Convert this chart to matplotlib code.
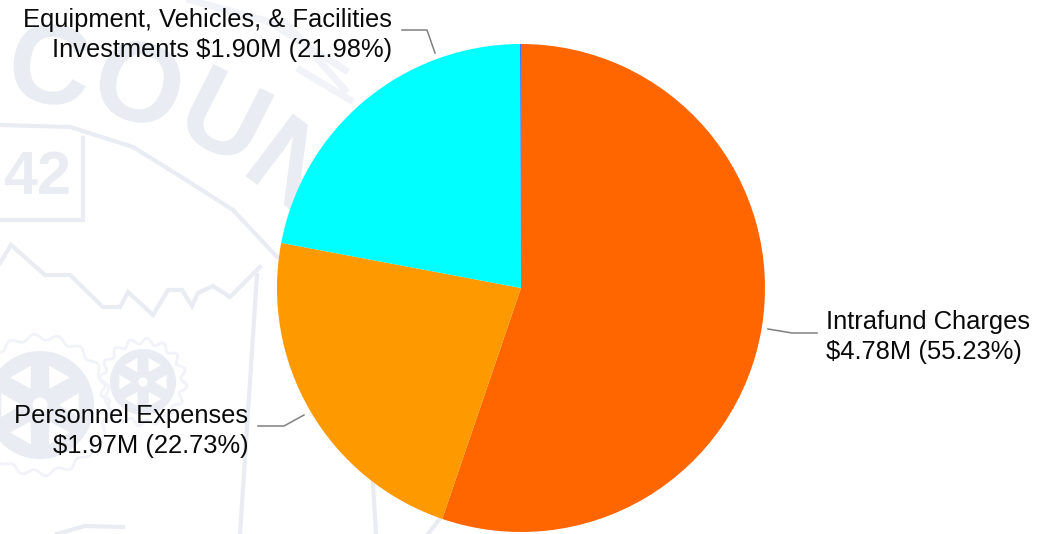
import numpy as np
from matplotlib import pyplot as plt
from matplotlib.textpath import TextPath
from matplotlib.patches import PathPatch, Polygon
from matplotlib.transforms import Affine2D
from matplotlib.font_manager import FontProperties

# budget shares, percent
categories = ['Intrafund Charges', 'Personnel Expenses',
              'Equipment, Vehicles, & Facilities Investments', 'Other']
shares = [55.23, 22.73, 21.98, 0.06]
colors = ['#ff6600', '#ff9900', '#00ffff', '#3366ff']

label_lines = [['Intrafund Charges', '$4.78M (55.23%)'],
               ['Personnel Expenses', '$1.97M (22.73%)'],
               ['Equipment, Vehicles, & Facilities', 'Investments $1.90M (21.98%)']]

W, H = 1053, 534
fig = plt.figure(figsize=(W / 100, H / 100), dpi=100)
ax = fig.add_axes([0, 0, 1, 1])

seal = '#e9ecf3'
seal_light = '#f1f3f8'

# county seal in the background
font = FontProperties(family='Liberation Sans', weight='bold')
for ch, cx, cy, rot in [('C', 51, 64, 7), ('O', 140, 82, 17), ('U', 226, 115, 27), ('N', 296, 165, 37)]:
    tp = TextPath((0, 0), ch, size=114, prop=font)
    bb = tp.get_extents()
    tr = (Affine2D().translate(-(bb.x0 + bb.x1) / 2, -(bb.y0 + bb.y1) / 2).scale(1, -1)
          .rotate_deg(rot).translate(cx, cy) + ax.transData)
    ax.add_patch(PathPatch(tp, transform=tr, fc=seal, ec='none', zorder=1))

seal_lines = [
    ([0, 70, 133, 183, 233, 277], [125, 127, 147, 178, 210, 257]),
    ([83, 83, 0], [138, 220, 220]),
    ([0, 11, 45, 70, 103, 120, 128, 153, 168, 182, 192, 198, 213, 230, 260],
     [263, 245, 275, 275, 307, 307, 292, 315, 290, 290, 306, 293, 286, 297, 267]),
    ([257, 240], [275, 534]),
    ([373, 376], [483, 534]),
    ([428, 442], [534, 516]),
    ([57, 85, 123], [534, 526, 527]),
]
for xs, ys in seal_lines:
    ax.plot(xs, ys, color=seal, lw=3, zorder=1, solid_joinstyle='miter')

# fainter bands along the top edge
for xs, ys in [([285, 345], [22, 90]), ([300, 350], [70, 100]), ([190, 270, 345], [0, 22, 70])]:
    ax.plot(xs, ys, color=seal_light, lw=5, zorder=1)

ax.text(37, 179, '42', fontsize=44, fontweight='bold', family='Liberation Sans',
        color=seal, ha='center', va='center', zorder=1)

# gears
t = np.linspace(0, 2 * np.pi, 721)
for cx, cy, r, teeth, outer in [(40, 405, 54, 18, 68), (143, 382, 33, 16, 41)]:
    ax.fill(cx + r * np.cos(t), cy + r * np.sin(t), color=seal, lw=0, zorder=1)
    rr = outer + 3 * np.sin(teeth * t)
    ax.plot(cx + rr * np.cos(t), cy + rr * np.sin(t), color=seal_light, lw=2, zorder=1)
    ax.add_patch(plt.Circle((cx, cy), r * 0.14, fc='white', ec='none', zorder=1.1))
    for a in np.radians(np.arange(0, 360, 60)):
        ax.add_patch(Polygon([(cx + r * 0.75 * np.cos(a - 0.3), cy + r * 0.75 * np.sin(a - 0.3)),
                              (cx + r * 0.75 * np.cos(a + 0.3), cy + r * 0.75 * np.sin(a + 0.3)),
                              (cx + r * 0.35 * np.cos(a), cy + r * 0.35 * np.sin(a))],
                             fc='white', ec='none', zorder=1.1))

# pie, clockwise from twelve o'clock (y axis runs downward)
ax.pie(shares, colors=colors, startangle=-90, counterclock=True, center=(521, 288),
       radius=244, frame=True, wedgeprops={'linewidth': 0, 'zorder': 2})
ax.set_xlim(0, W)
ax.set_ylim(H, 0)
ax.set_aspect('equal')
ax.axis('off')

# callout leader lines
leaders = [([768, 792, 817], [329, 333, 333]),
           ([304, 284, 258], [415, 426, 426]),
           ([435, 427, 402], [53, 30, 30])]
for xs, ys in leaders:
    ax.plot(xs, ys, color='#808080', lw=1.1, zorder=3)

plt.rcParams['font.family'] = ['Liberation Sans']
fs = 18.4
ink = '#0a0a0a'
ax.text(826, 322.5, label_lines[0][0], fontsize=fs, ha='left', va='center', color=ink, zorder=4)
ax.text(826, 352.5, label_lines[0][1], fontsize=fs, ha='left', va='center', color=ink, zorder=4)
ax.text(248.5, 415.5, label_lines[1][0], fontsize=fs, ha='right', va='center', color=ink, zorder=4)
ax.text(248.5, 445.5, label_lines[1][1], fontsize=fs, ha='right', va='center', color=ink, zorder=4)
ax.text(392, 20.5, label_lines[2][0], fontsize=fs, ha='right', va='center', color=ink, zorder=4)
ax.text(392, 50.5, label_lines[2][1], fontsize=fs, ha='right', va='center', color=ink, zorder=4)

fig.savefig('out.png', dpi=100)
